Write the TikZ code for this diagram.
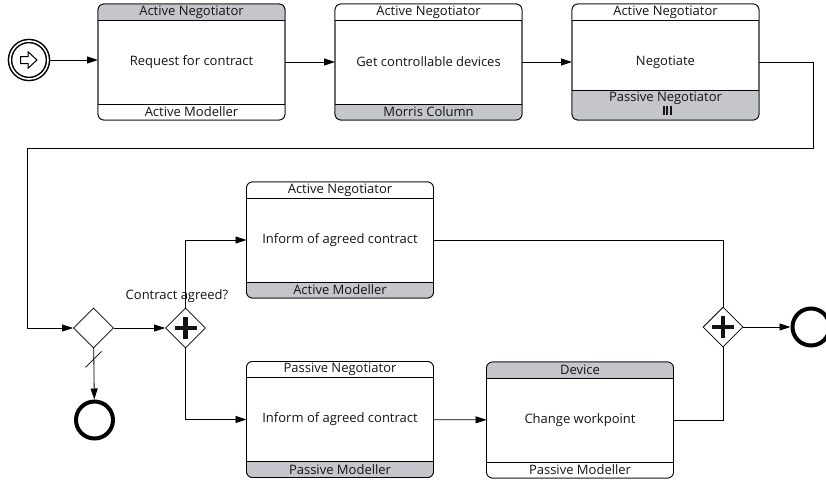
\documentclass[tikz,border=0pt]{standalone}
\usepackage{fontspec}
\setmainfont{Open Sans}
\usepackage{tikz}
\usetikzlibrary{shapes,calc,positioning,arrows.meta}
\definecolor{bandgray}{RGB}{196,198,204}
\definecolor{ink}{RGB}{20,20,20}

\tikzset{
  txt/.style={font=\fontsize{13}{15}\selectfont, text=ink, inner sep=0pt},
  task/.style={draw, rounded corners=6pt, line width=.8pt, outer sep=0pt,
               minimum width=187pt, minimum height=116pt, txt},
  gate/.style={draw, diamond, line width=.8pt, minimum width=40pt,
               minimum height=40pt, inner sep=0pt},
  andgate/.style={gate, path picture={
      \draw[line width=4.5pt, ink]
        ([xshift=-11pt]path picture bounding box.center) -- ([xshift=11pt]path picture bounding box.center)
        ([yshift=-11pt]path picture bounding box.center) -- ([yshift=11pt]path picture bounding box.center);}},
  endev/.style={draw, circle, line width=4pt, minimum size=37pt, inner sep=0pt},
  startev/.style={draw, circle, double, line width=1.5pt, double distance=1.6pt,
                  minimum size=38pt, inner sep=0pt},
  flow/.style={line width=.8pt, -{Triangle[length=11pt,width=7pt]}},
  line/.style={line width=.8pt}
}

% bands of a choreography task: node, top fill, top text, bottom fill, bottom text, bottom height
\newcommand{\bands}[6]{%
  \begin{scope}
    \clip[rounded corners=6pt] (#1.north west) rectangle (#1.south east);
    \fill[#2] (#1.north west) rectangle ([yshift=-16pt]#1.north east);
    \fill[#4] (#1.south west) rectangle ([yshift=#6]#1.south east);
  \end{scope}
  \draw[line] ([yshift=-16pt]#1.north west) -- ([yshift=-16pt]#1.north east)
              ([yshift=#6]#1.south west) -- ([yshift=#6]#1.south east);
  \draw[line, rounded corners=6pt] (#1.north west) rectangle (#1.south east);
  \node[txt] at ([yshift=-8pt]#1.north) {#3};
  \node[txt] at ([yshift=#6-8pt]#1.south) {#5};
}

\begin{document}
\begin{tikzpicture}[x=1pt, y=-1pt]
  \useasboundingbox (0,0) rectangle (826,482);

  % events and gateways
  \node[startev] (start) at (29,60) {};
  \draw[line width=1pt, fill=white] (start.center) ++(-8.5,-3.5) -- ++(7.5,0) -- ++(0,-4.8)
        -- ++(9,8.3) -- ++(-9,8.3) -- ++(0,-4.8) -- ++(-7.5,0) -- cycle;
  \node[gate] (xor) at (93.5,328) {};
  \node[andgate] (split) at (185.5,328) {};
  \node[andgate] (join) at (723,327) {};
  \node[endev] (endno) at (94.5,420) {};
  \node[endev] (endok) at (811,327) {};
  \node[txt] (agreed) at (177,296) {Contract agreed?};

  % choreography tasks
  \node[task] (request) at (191.5,62) {Request for contract};
  \node[task] (getdev) at (428.5,62) {Get controllable devices};
  \node[task] (nego) at (665.5,62) {Negotiate};
  \node[task] (informA) at (340,240) {Inform of agreed contract};
  \node[task] (informP) at (340,419.5) {Inform of agreed contract};
  \node[task] (change) at (580,420) {Change workpoint};

  \bands{request}{bandgray}{Active Negotiator}{white}{Active Modeller}{16pt}
  \bands{getdev}{white}{Active Negotiator}{bandgray}{Morris Column}{16pt}
  \bands{nego}{white}{Active Negotiator}{bandgray}{Passive Negotiator}{30pt}
  \bands{informA}{white}{Active Negotiator}{bandgray}{Active Modeller}{16pt}
  \bands{informP}{white}{Passive Negotiator}{bandgray}{Passive Modeller}{16pt}
  \bands{change}{bandgray}{Device}{white}{Passive Modeller}{16pt}
  \draw[line width=2pt, ink] ([shift={(-2,-5)}]nego.south) -- ++(0,-9)
       ([shift={(1.5,-5)}]nego.south) -- ++(0,-9)
       ([shift={(5,-5)}]nego.south) -- ++(0,-9);

  % sequence flows
  \coordinate (loopR) at (813,148);
  \coordinate (loopL) at (27,148);
  \draw[flow] (start) -- (start -| request.west);
  \draw[flow] (request) -- (getdev);
  \draw[flow] (getdev) -- (nego);
  \draw[flow] (nego) -| (loopR) -- (loopL) |- (xor);
  \draw[flow] (xor) -- (split);
  \draw[flow] (xor) -- (endno);
  \draw[line] (xor.south) ++(-8,19) -- ++(16,-16);
  \draw[flow] (split) |- (informA);
  \draw[flow] (split) |- (informP);
  \draw[flow] (informP) -- (change);
  \draw[line] (informA) -| (join);
  \draw[line] (change) -| (join);
  \draw[flow] (join) -- (endok);
\end{tikzpicture}
\end{document}
